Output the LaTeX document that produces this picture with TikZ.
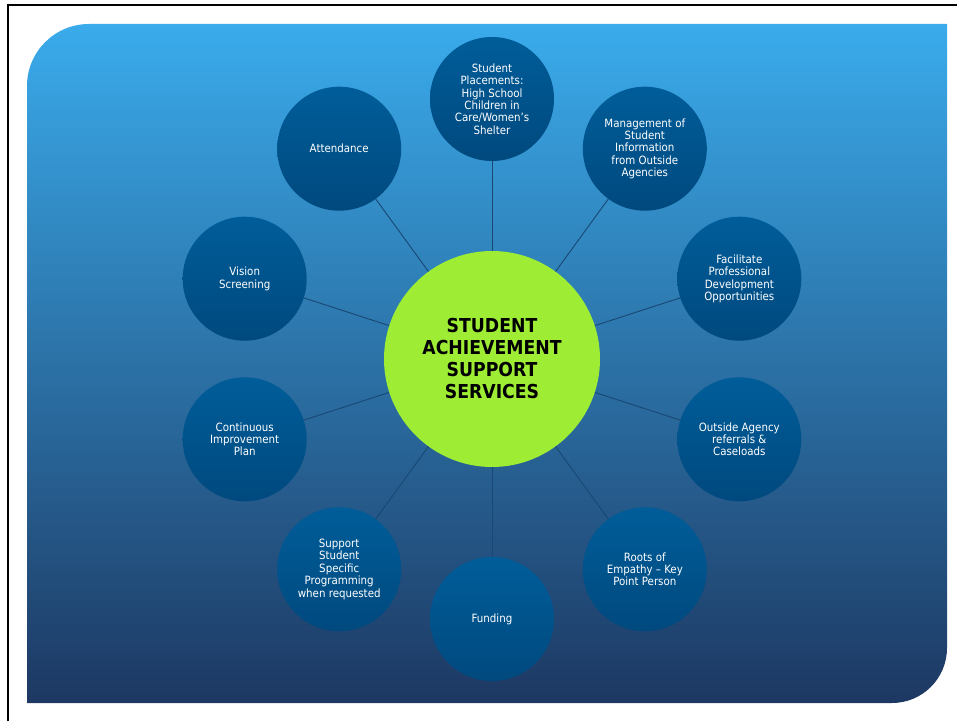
\documentclass[tikz,border=0pt]{standalone}
\usepackage{fontspec}
\setmainfont{DejaVu Sans Condensed}[BoldFont={DejaVu Sans Condensed Bold}]
\usepackage{tikz}

\definecolor{skytop}{RGB}{58,171,235}
\definecolor{skymid}{RGB}{47,133,197}
\definecolor{skybottom}{RGB}{29,56,98}
\definecolor{bubbletop}{RGB}{0,93,153}
\definecolor{bubblebottom}{RGB}{0,73,126}
\definecolor{hubgreen}{RGB}{158,237,52}
\definecolor{spokeblue}{RGB}{24,72,115}

\begin{document}
\begin{tikzpicture}[x=1pt,y=1pt]

\tikzset{hub/.style = {shape=circle,fill=hubgreen,minimum size=216pt,inner sep=0pt,
  align=center,font=\fontsize{19.2}{22}\selectfont\bfseries}}
\tikzset{bubble/.style = {shape=circle,top color=bubbletop,bottom color=bubblebottom,
  minimum size=124pt,inner sep=0pt,align=center,text=white,
  font=\fontsize{11.4}{12.4}\selectfont}}
\tikzset{spoke/.style = {draw=spokeblue,line width=0.9pt}}

\useasboundingbox (0,0) rectangle (957,721);

% frame and panel
\draw[line width=2.5pt] (8,0) -- (8,716) -- (957,716);
\shade[top color=skytop,middle color=skymid,bottom color=skybottom]
  (27,18) -- (27,635) arc[start angle=180,end angle=90,radius=62]
  -- (947,697) -- (947,73) arc[start angle=0,end angle=-90,radius=55] -- cycle;

% vertices
\node[hub] (hub) at (492,362) {STUDENT\\ACHIEVEMENT\\SUPPORT\\SERVICES};
\node[bubble] (placements) at (492,622) {Student\\Placements:\\High School\\Children in\\Care/Women’s\\Shelter};
\node[bubble] (management) at (644.8,572.3) {Management of\\Student\\Information\\from Outside\\Agencies};
\node[bubble] (development) at (739.3,442.3) {Facilitate\\Professional\\Development\\Opportunities};
\node[bubble] (referrals) at (739.3,281.7) {Outside Agency\\referrals \&\\Caseloads};
\node[bubble] (empathy) at (644.8,151.7) {Roots of\\Empathy – Key\\Point Person};
\node[bubble] (funding) at (492,102) {Funding};
\node[bubble] (programming) at (339.2,151.7) {Support\\Student\\Specific\\Programming\\when requested};
\node[bubble] (improvement) at (244.7,281.7) {Continuous\\Improvement\\Plan};
\node[bubble] (vision) at (244.7,442.3) {Vision\\Screening};
\node[bubble] (attendance) at (339.2,572.3) {Attendance};

% edges
\draw[spoke] (hub) -- (placements);
\draw[spoke] (hub) -- (management);
\draw[spoke] (hub) -- (development);
\draw[spoke] (hub) -- (referrals);
\draw[spoke] (hub) -- (empathy);
\draw[spoke] (hub) -- (funding);
\draw[spoke] (hub) -- (programming);
\draw[spoke] (hub) -- (improvement);
\draw[spoke] (hub) -- (vision);
\draw[spoke] (hub) -- (attendance);

\end{tikzpicture}
\end{document}
